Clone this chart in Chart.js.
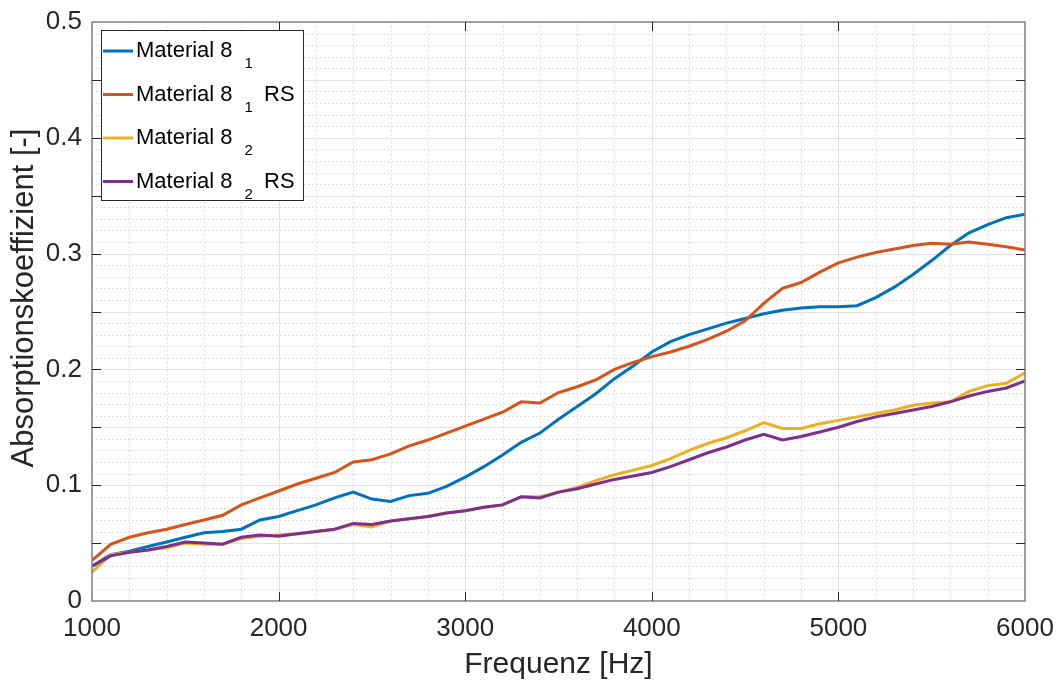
<!DOCTYPE html>
<html>
<head>
<meta charset="utf-8">
<script src="https://cdn.jsdelivr.net/npm/chart.js@4/dist/chart.umd.min.js"></script>
<style>
  body { margin: 0; background: #fff; }
  #wrap { width: 1059px; height: 680px; }
</style>
</head>
<body>
<div id="wrap"><canvas id="chart" width="1059" height="680"></canvas></div>
<script>
// frequency axis (Hz)
const freq = [1000, 1100, 1200, 1300, 1400, 1500, 1600, 1700, 1800, 1900,
  2000, 2100, 2200, 2300, 2400, 2500, 2600, 2700, 2800, 2900,
  3000, 3100, 3200, 3300, 3400, 3500, 3600, 3700, 3800, 3900,
  4000, 4100, 4200, 4300, 4400, 4500, 4600, 4700, 4800, 4900,
  5000, 5100, 5200, 5300, 5400, 5500, 5600, 5700, 5800, 5900, 6000];

const material81 = [0.030, 0.040, 0.043, 0.047, 0.051, 0.055, 0.059, 0.060, 0.062, 0.070,
  0.073, 0.078, 0.083, 0.089, 0.094, 0.088, 0.086, 0.091, 0.093, 0.099,
  0.107, 0.116, 0.126, 0.137, 0.145, 0.157, 0.168, 0.179, 0.192, 0.203,
  0.215, 0.224, 0.230, 0.235, 0.240, 0.244, 0.248, 0.251, 0.253, 0.254,
  0.254, 0.255, 0.262, 0.271, 0.282, 0.294, 0.307, 0.318, 0.325, 0.331, 0.334];

const material81RS = [0.035, 0.049, 0.055, 0.059, 0.062, 0.066, 0.070, 0.074, 0.083, 0.089,
  0.095, 0.101, 0.106, 0.111, 0.120, 0.122, 0.127, 0.134, 0.139, 0.145,
  0.151, 0.157, 0.163, 0.172, 0.171, 0.180, 0.185, 0.191, 0.200, 0.206,
  0.211, 0.215, 0.220, 0.226, 0.233, 0.242, 0.257, 0.270, 0.275, 0.284,
  0.292, 0.297, 0.301, 0.304, 0.307, 0.309, 0.308, 0.310, 0.308, 0.306, 0.303];

const material82 = [0.025, 0.040, 0.042, 0.044, 0.046, 0.050, 0.049, 0.049, 0.054, 0.056,
  0.057, 0.058, 0.060, 0.062, 0.066, 0.064, 0.069, 0.071, 0.073, 0.076,
  0.078, 0.081, 0.083, 0.090, 0.090, 0.094, 0.098, 0.104, 0.109, 0.113,
  0.117, 0.123, 0.130, 0.136, 0.141, 0.147, 0.154, 0.149, 0.149, 0.153,
  0.156, 0.159, 0.162, 0.165, 0.169, 0.171, 0.172, 0.181, 0.186, 0.188, 0.197];

const material82RS = [0.030, 0.039, 0.042, 0.044, 0.047, 0.051, 0.050, 0.049, 0.055, 0.057,
  0.056, 0.058, 0.060, 0.062, 0.067, 0.066, 0.069, 0.071, 0.073, 0.076,
  0.078, 0.081, 0.083, 0.090, 0.089, 0.094, 0.097, 0.101, 0.105, 0.108,
  0.111, 0.116, 0.122, 0.128, 0.133, 0.139, 0.144, 0.139, 0.142, 0.146,
  0.150, 0.155, 0.159, 0.162, 0.165, 0.168, 0.172, 0.177, 0.181, 0.184, 0.190];

const seriesLabels = ['Material 8_1', 'Material 8_1 RS', 'Material 8_2', 'Material 8_2 RS'];
const seriesColors = ['#0072BD', '#D95319', '#EDB120', '#7E2F8E'];
const xTicks = [1000, 2000, 3000, 4000, 5000, 6000];
const yTicks = [0, 0.1, 0.2, 0.3, 0.4, 0.5];
const yTitle = 'Absorptionskoeffizient [-]';

const textColor = '#262626';
const fontFamily = '"Liberation Sans", Arial, Helvetica, sans-serif';

// grid, box and inward tick marks like matlab
const axesPlugin = {
  id: 'axesPlugin',
  beforeDatasetsDraw(chart) {
    const { ctx, chartArea: a, scales: { x, y } } = chart;
    ctx.save();
    ctx.lineWidth = 1;
    // minor dotted
    ctx.strokeStyle = '#d6d6d6';
    ctx.setLineDash([1.5, 2.5]);
    for (let v = 1200; v < 6000; v += 200) {
      if (v % 1000 === 0) continue;
      const px = Math.round(x.getPixelForValue(v)) + 0.5;
      ctx.beginPath(); ctx.moveTo(px, a.top); ctx.lineTo(px, a.bottom); ctx.stroke();
    }
    for (let i = 1; i < 50; i++) {
      if (i % 5 === 0) continue;
      const py = Math.round(y.getPixelForValue(i / 100)) + 0.5;
      ctx.beginPath(); ctx.moveTo(a.left, py); ctx.lineTo(a.right, py); ctx.stroke();
    }
    // major solid
    ctx.setLineDash([]);
    ctx.strokeStyle = '#e2e2e2';
    for (let v = 2000; v < 6000; v += 1000) {
      const px = Math.round(x.getPixelForValue(v)) + 0.5;
      ctx.beginPath(); ctx.moveTo(px, a.top); ctx.lineTo(px, a.bottom); ctx.stroke();
    }
    for (let i = 1; i < 10; i++) {
      const py = Math.round(y.getPixelForValue(i * 0.05)) + 0.5;
      ctx.beginPath(); ctx.moveTo(a.left, py); ctx.lineTo(a.right, py); ctx.stroke();
    }
    ctx.restore();
  },
  afterDatasetsDraw(chart) {
    const { ctx, chartArea: a, scales: { x, y } } = chart;
    ctx.save();
    ctx.strokeStyle = '#808080';
    ctx.lineWidth = 1.5;
    ctx.strokeRect(a.left, a.top, a.right - a.left, a.bottom - a.top);
    ctx.strokeStyle = '#262626';
    ctx.lineWidth = 1;
    const tl = 9;
    for (let v = 2000; v < 6000; v += 1000) {
      const px = Math.round(x.getPixelForValue(v)) + 0.5;
      ctx.beginPath();
      ctx.moveTo(px, a.bottom); ctx.lineTo(px, a.bottom - tl);
      ctx.moveTo(px, a.top); ctx.lineTo(px, a.top + tl);
      ctx.stroke();
    }
    for (let i = 1; i < 10; i++) {
      const py = Math.round(y.getPixelForValue(i * 0.05)) + 0.5;
      ctx.beginPath();
      ctx.moveTo(a.left, py); ctx.lineTo(a.left + tl, py);
      ctx.moveTo(a.right, py); ctx.lineTo(a.right - tl, py);
      ctx.stroke();
    }
    // y axis title (matlab puts it a bit above the middle)
    ctx.fillStyle = textColor;
    ctx.font = '31px ' + fontFamily;
    ctx.textAlign = 'center';
    ctx.textBaseline = 'middle';
    ctx.translate(24, 298);
    ctx.rotate(-Math.PI / 2);
    ctx.fillText(yTitle, 0, 0);
    ctx.restore();
  }
};

// legend with subscripts (Material 8_1 -> 8 with subscript 1)
const legendPlugin = {
  id: 'subLegend',
  afterDraw(chart) {
    const { ctx } = chart;
    const bx = 101, by = 30, bw = 202, bh = 170;
    ctx.save();
    ctx.fillStyle = '#fff';
    ctx.fillRect(bx, by, bw, bh);
    ctx.strokeStyle = '#262626';
    ctx.lineWidth = 1;
    ctx.strokeRect(bx + 0.5, by + 0.5, bw, bh);
    ctx.textBaseline = 'alphabetic';
    ctx.textAlign = 'left';
    seriesLabels.forEach((label, i) => {
      const ly = 51 + i * 43.5;
      ctx.strokeStyle = seriesColors[i];
      ctx.lineWidth = 3;
      ctx.beginPath(); ctx.moveTo(103, ly); ctx.lineTo(133, ly); ctx.stroke();
      const m = label.match(/^(.*)_(\w)(.*)$/);
      const base = m ? m[1] : label;
      ctx.fillStyle = '#000';
      ctx.font = '22px ' + fontFamily;
      let tx = 136;
      const baseY = ly + 6;
      ctx.fillText(base, tx, baseY);
      tx += ctx.measureText(base).width;
      if (m) {
        tx += 12;
        ctx.font = '15px ' + fontFamily;
        ctx.fillText(m[2], tx, baseY + 11);
        tx += ctx.measureText(m[2]).width;
        if (m[3]) {
          ctx.font = '22px ' + fontFamily;
          ctx.fillText(m[3], tx + 5, baseY);
        }
      }
    });
    ctx.restore();
  }
};

const allSeries = [material81, material81RS, material82, material82RS];

new Chart(document.getElementById('chart'), {
  type: 'line',
  data: {
    datasets: allSeries.map((vals, i) => ({
      label: seriesLabels[i],
      data: freq.map((f, k) => ({ x: f, y: vals[k] })),
      borderColor: seriesColors[i],
      backgroundColor: seriesColors[i],
      borderWidth: 3,
      pointRadius: 0,
      tension: 0,
      fill: false,
      order: 3 - i
    }))
  },
  options: {
    responsive: false,
    animation: false,
    layout: { padding: { top: 22, right: 34, left: 0, bottom: 0 } },
    plugins: { legend: { display: false }, tooltip: { enabled: false } },
    scales: {
      x: {
        type: 'linear',
        min: 1000, max: 6000,
        afterFit(s) { s.height = 79; s.paddingLeft = 0; s.paddingRight = 0; },
        afterBuildTicks(s) { s.ticks = xTicks.map(v => ({ value: v })); },
        grid: { display: false, drawTicks: false },
        border: { display: false },
        ticks: {
          color: textColor, padding: 12,
          font: { family: fontFamily, size: 26 },
          callback: v => String(v)
        },
        title: {
          display: true, text: 'Frequenz [Hz]', color: textColor,
          font: { family: fontFamily, size: 30, lineHeight: 1.0 },
          padding: { top: 0, bottom: 0 }
        }
      },
      y: {
        min: 0, max: 0.5,
        afterFit(s) { s.width = 92; s.paddingTop = 0; s.paddingBottom = 0; },
        afterBuildTicks(s) { s.ticks = yTicks.map(v => ({ value: v })); },
        grid: { display: false, drawTicks: false },
        border: { display: false },
        ticks: {
          color: textColor, padding: 10,
          font: { family: fontFamily, size: 26 },
          callback: v => (v === 0 ? '0' : v.toFixed(1))
        },
        title: { display: false }
      }
    }
  },
  plugins: [axesPlugin, legendPlugin]
});
</script>
</body>
</html>
